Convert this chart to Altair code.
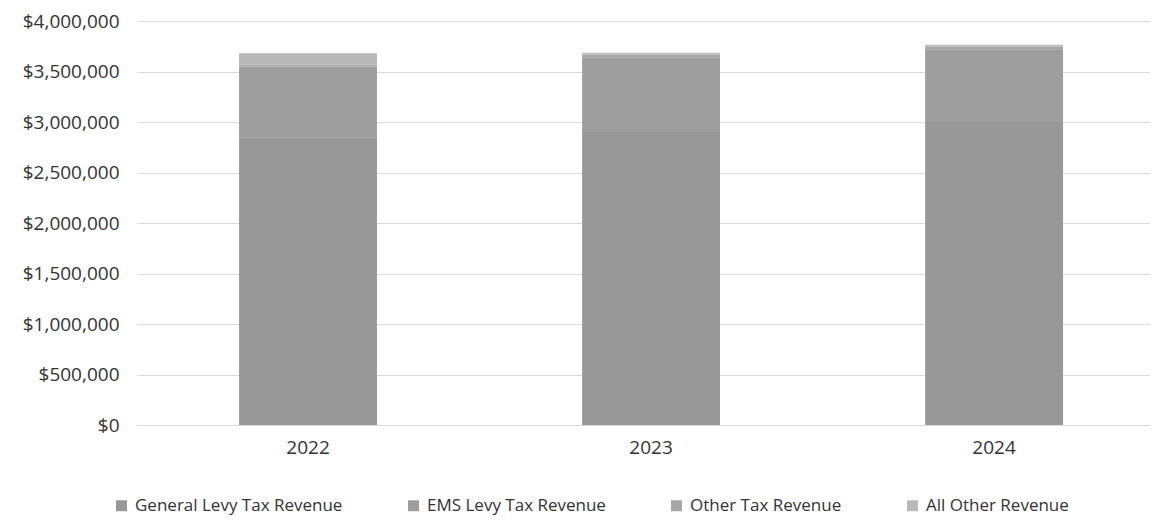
import altair as alt
import pandas as pd

years = ["2022", "2023", "2024"]
categories = ["General Levy Tax Revenue", "EMS Levy Tax Revenue", "Other Tax Revenue", "All Other Revenue"]
general_levy = [2850000, 2900000, 3000000]
ems_levy = [700000, 740000, 720000]
other_tax = [20000, 25000, 25000]
all_other = [110000, 20000, 20000]
colors = ["#989898", "#9e9e9e", "#a7a7a7", "#b9b9b9"]

series = [general_levy, ems_levy, other_tax, all_other]
rows = []
for ci, (cat, vals) in enumerate(zip(categories, series)):
    for y, v in zip(years, vals):
        rows.append({"Year": y, "Category": cat, "Value": v, "order": ci})
df = pd.DataFrame(rows)

FONT = "Open Sans"

chart = alt.Chart(df).mark_bar().encode(
    x=alt.X("Year:N", title=None,
            scale=alt.Scale(paddingInner=0.598, paddingOuter=0.2755, align=0.54),
            axis=alt.Axis(labelAngle=0, ticks=False, domain=True, domainColor="#d9d9d9",
                          labelFontSize=19, labelFont=FONT, labelColor="#333333",
                          labelPadding=13)),
    y=alt.Y("Value:Q", title=None, stack="zero",
            scale=alt.Scale(domain=[0, 4000000]),
            axis=alt.Axis(format="$,.0f", values=list(range(0, 4000001, 500000)),
                          ticks=False, domain=False, gridColor="#d9d9d9", gridWidth=1,
                          labelFontSize=19, labelFont=FONT, labelColor="#333333",
                          labelPadding=18)),
    color=alt.Color("Category:N", sort=categories,
                    scale=alt.Scale(domain=categories, range=colors),
                    legend=alt.Legend(title=None, orient="none", direction="horizontal",
                                      legendX=-24, legendY=476,
                                      symbolType="square", symbolSize=120, symbolStrokeWidth=0,
                                      labelFontSize=17, labelFont=FONT, labelColor="#333333",
                                      labelLimit=0, columnPadding=62, labelOffset=5)),
    order=alt.Order("order:Q", sort="ascending"),
).properties(
    width=1013, height=404,
    autosize=alt.AutoSizeParams(type="none"),
    padding={"left": 129, "top": 13, "right": 0, "bottom": 95},
).configure_view(stroke=None)

chart.save("out.html", embed_options={"renderer": "svg", "actions": False})
